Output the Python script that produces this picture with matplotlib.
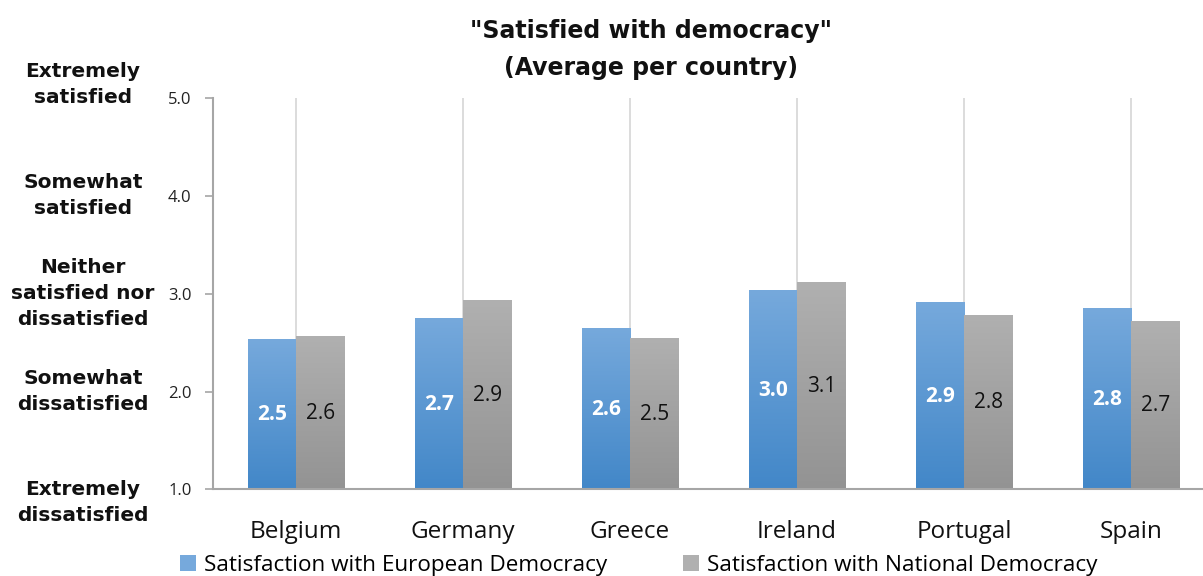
import numpy as np
import matplotlib
matplotlib.use("Agg")
import matplotlib.pyplot as plt
from matplotlib.colors import LinearSegmentedColormap
from matplotlib.patches import Patch

plt.rcParams["font.family"] = ["Open Sans", "DejaVu Sans"]

# ── Data ──────────────────────────────────────────────────────────────────────
countries = ["Belgium", "Germany", "Greece", "Ireland", "Portugal", "Spain"]
european = [2.53, 2.74, 2.64, 3.03, 2.90, 2.84]
national = [2.56, 2.92, 2.54, 3.11, 2.77, 2.71]
series_names = ["Satisfaction with European Democracy",
                "Satisfaction with National Democracy"]
y_ticks = [1.0, 2.0, 3.0, 4.0, 5.0]
scale_labels = ["Extremely\ndissatisfied", "Somewhat\ndissatisfied",
                "Neither\nsatisfied nor\ndissatisfied", "Somewhat\nsatisfied",
                "Extremely\nsatisfied"]

BLUE_TOP, BLUE_BOT = "#76A9DC", "#4287C8"
GREY_TOP, GREY_BOT = "#B0B0B0", "#939393"
AXIS_GREY = "#A6A6A6"
BASE = 1.0


def gradient_fill(ax, bars, top, bottom):
    """Replace flat bar fill with a vertical top->bottom gradient."""
    cmap = LinearSegmentedColormap.from_list("grad", [bottom, top])
    grad = np.linspace(0, 1, 256).reshape(-1, 1)
    for b in bars:
        x, y, w, h = b.get_x(), b.get_y(), b.get_width(), b.get_height()
        b.set_facecolor("none")
        b.set_edgecolor("none")
        ax.imshow(grad, cmap=cmap, origin="lower", aspect="auto",
                  extent=(x, x + w, y, y + h), zorder=2,
                  interpolation="bilinear")


fig = plt.figure(figsize=(12.03, 5.76), dpi=100)
ax = fig.add_axes([212.5 / 1203, 0.1502, 1002 / 1203, 0.6802])

x = np.arange(len(countries))
width = 0.29
eu = np.array(european)
nat = np.array(national)

bars_eu = ax.bar(x - width / 2, eu - BASE, width, bottom=BASE, zorder=2)
bars_nat = ax.bar(x + width / 2, nat - BASE, width, bottom=BASE, zorder=2)
gradient_fill(ax, bars_eu, BLUE_TOP, BLUE_BOT)
gradient_fill(ax, bars_nat, GREY_TOP, GREY_BOT)

# value labels, centred in each bar
for xi, v in zip(x - width / 2, eu):
    ax.text(xi, (v + BASE) / 2, f"{v:.1f}", ha="center", va="center",
            color="white", fontsize=15, fontweight="bold", zorder=3)
for xi, v in zip(x + width / 2, nat):
    ax.text(xi, (v + BASE) / 2, f"{v:.1f}", ha="center", va="center",
            color="#111111", fontsize=15, zorder=3)

ax.set_xlim(-0.5, len(countries) - 0.5)
ax.set_ylim(1.0, 5.0)
ax.set_xticks(x)
ax.set_xticklabels(countries, fontsize=17.5)
ax.set_yticks(y_ticks)
ax.set_yticklabels([f"{t:.1f}" for t in y_ticks], fontsize=12, color="#222222")
ax.tick_params(axis="x", length=0, pad=22, colors="#111111")
ax.tick_params(axis="y", direction="out", length=6, width=1.2,
               color=AXIS_GREY, pad=9)
ax.grid(axis="x", color="#D9D9D9", lw=1.3)
ax.set_axisbelow(True)
for s in ["top", "right"]:
    ax.spines[s].set_visible(False)
for s in ["left", "bottom"]:
    ax.spines[s].set_color(AXIS_GREY)
    ax.spines[s].set_linewidth(1.5)

# verbal scale next to the numeric ticks
offsets = {1.0: -13, 5.0: 13}
for t, lab in zip(y_ticks, scale_labels):
    ax.annotate(lab, xy=(83 / 1203, t), xycoords=(fig.transFigure, ax.transData),
                xytext=(0, offsets.get(t, 0)), textcoords="offset pixels",
                ha="center", va="center", fontsize=14.5, fontweight="bold",
                family="DejaVu Sans", linespacing=1.45, color="#111111",
                annotation_clip=False)

fig.text(651 / 1203, 1 - 37.7 / 576, '"Satisfied with democracy"', ha="center",
         va="baseline", fontsize=17, fontweight="bold", family="DejaVu Sans",
         color="#111111")
fig.text(651 / 1203, 1 - 75 / 576, "(Average per country)", ha="center",
         va="baseline", fontsize=17, fontweight="bold", family="DejaVu Sans",
         color="#111111")

handles = [Patch(facecolor=BLUE_TOP, edgecolor="none"),
           Patch(facecolor=GREY_TOP, edgecolor="none")]
fig.legend(handles, series_names, loc="center left",
           bbox_to_anchor=(180 / 1203, 1 - 565 / 576), ncol=2, frameon=False,
           fontsize=16.2, handlelength=0.7, handleheight=0.7, handletextpad=0.35,
           columnspacing=3.4, borderaxespad=0, borderpad=0)

fig.savefig("out.png", dpi=100)
